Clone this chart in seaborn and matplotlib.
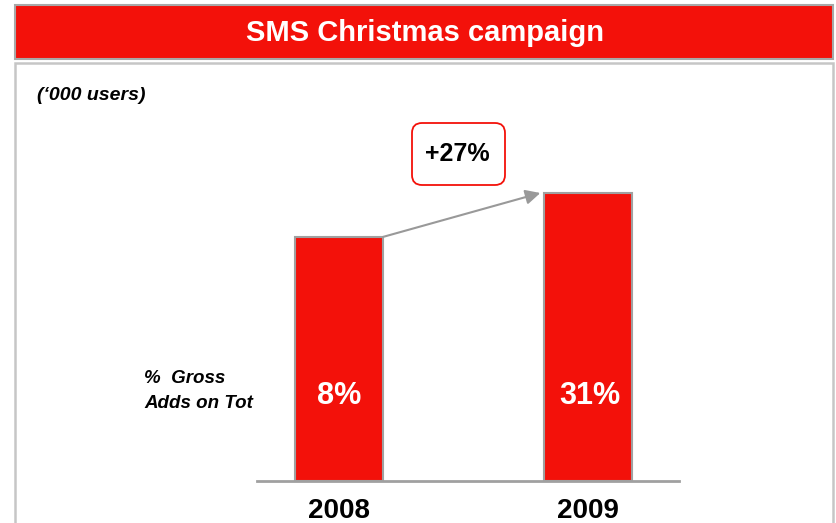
import pandas as pd
import seaborn as sns
import matplotlib.pyplot as plt
from matplotlib.patches import Rectangle, FancyBboxPatch
from matplotlib.transforms import Affine2D

# chart data
years = ['2008', '2009']
users = [100, 118]          # bar heights ('000 users)
share_labels = ['8%', '31%']
growth_label = '+27%'

W, H = 836, 523
RED = '#F3110A'
GREY = '#A0A0A0'

sns.set_style('white')
plt.rcParams['font.family'] = ['Liberation Sans', 'DejaVu Sans']
plt.rcParams['text.color'] = 'black'
plt.rcParams['xtick.color'] = 'black'

fig = plt.figure(figsize=(W / 100, H / 100), dpi=100)
# pixel coords, origin top-left
px = Affine2D().scale(1, -1).translate(0, H)


def fx(x):
    return x / W


def fy(y):
    return 1 - y / H


# title banner and panel
fig.add_artist(Rectangle((15, 5), 818, 54, transform=px, facecolor=RED,
                         edgecolor='#A8A8A8', lw=1.5, zorder=-2))
fig.add_artist(Rectangle((15, 63), 818, 480, transform=px, facecolor='white',
                         edgecolor='#C6C6C6', lw=1.8, zorder=-2))
fig.text(fx(425), fy(33), 'SMS Christmas campaign', color='white',
         fontsize=21, fontweight='bold', ha='center', va='center')

ax = fig.add_axes([fx(257), fy(481), fx(679) - fx(257), (481 - 110) / H])
ax.set_facecolor('none')

df = pd.DataFrame({'year': years, 'users': users})
sns.barplot(data=df, x='year', y='users', color=RED, saturation=1,
            width=0.354, edgecolor=GREY, linewidth=1.5, ax=ax)

ax.set_xlim(-0.33, 1.368)
ax.set_ylim(0, 152)
ax.set_xlabel('')
ax.set_ylabel('')
ax.set_yticks([])
for s in ['top', 'left', 'right']:
    ax.spines[s].set_visible(False)
ax.spines['bottom'].set_color(GREY)
ax.spines['bottom'].set_linewidth(2)
ax.tick_params(axis='x', length=0, pad=12, labelsize=20, labelcolor='black')
for t in ax.get_xticklabels():
    t.set_fontweight('bold')

for i, lab in enumerate(share_labels):
    ax.text(i + 0.01 * i, 35, lab, color='white', fontsize=22,
            fontweight='bold', ha='center', va='center')

# growth arrow
ax.annotate('', xy=(0.81, users[1]), xytext=(0.177, users[0]),
            arrowprops=dict(arrowstyle='-|>', color='#999999', lw=1.5,
                            mutation_scale=22, shrinkA=0, shrinkB=0))

fig.add_artist(FancyBboxPatch((412, 123), 93, 62, transform=px,
                              boxstyle='round,pad=0,rounding_size=10',
                              facecolor='white', edgecolor=RED, lw=1.3))
fig.text(fx(457), fy(154), growth_label, fontsize=18, fontweight='bold',
         ha='center', va='center', color='black')

fig.text(fx(37), fy(96), "(\u2018000 users)", fontsize=14, style='italic',
         fontweight='bold', ha='left', va='center', color='black')
fig.text(fx(144), fy(391), '%  Gross\nAdds on Tot', fontsize=13.5,
         style='italic', fontweight='bold', ha='left', va='center',
         linespacing=1.55, color='black')

fig.savefig('out.png', dpi=100)
